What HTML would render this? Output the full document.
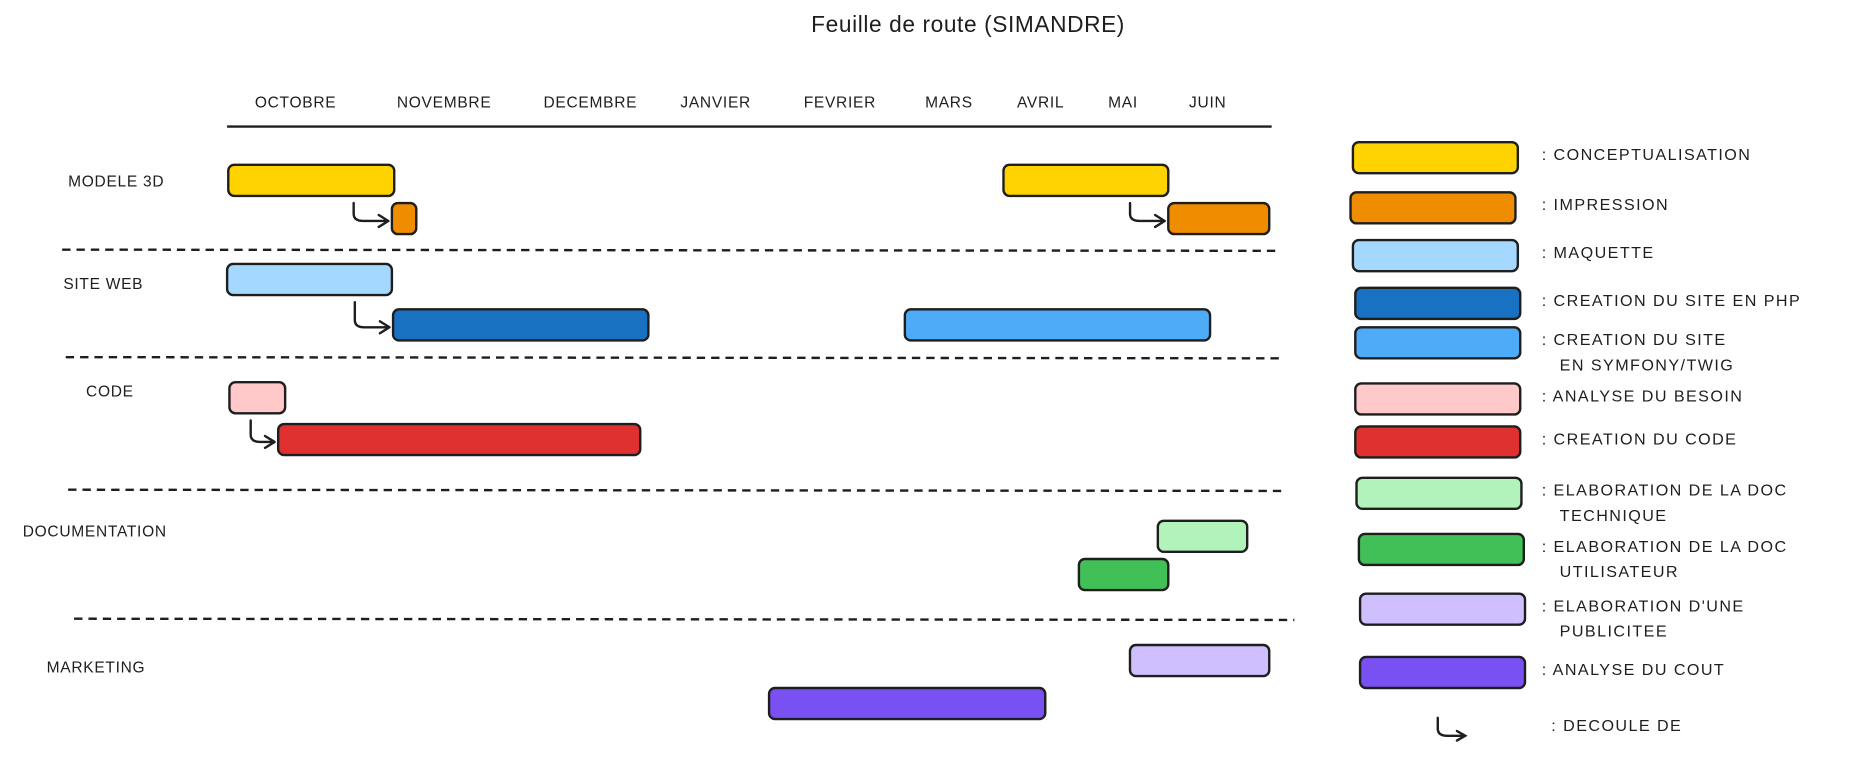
<!DOCTYPE html>
<html><head><meta charset="utf-8">
<style>
html,body{margin:0;padding:0;background:#fff;}
svg{display:block;}
text{font-family:"Liberation Sans",sans-serif;fill:#1e1e1e;}
.lbl{font-size:13px;letter-spacing:0.6px;}
.leg{font-size:13.5px;letter-spacing:1.2px;}
</style></head>
<body>
<svg id="chart" width="1874" height="774" viewBox="0 0 1568 648" preserveAspectRatio="none" xmlns="http://www.w3.org/2000/svg">
<text x="810" y="27" text-anchor="middle" font-size="19" style="letter-spacing:0.5px">Feuille de route (SIMANDRE)</text>
<line x1="190" y1="106" x2="1064" y2="106" stroke="#1e1e1e" stroke-width="2"/>
<g id="months"></g>
<g id="grid"></g>
<g id="bars"></g>
<g id="arrows"></g>
<g id="rows"></g>
<g id="legend"></g>
</svg>
<script>
const months = ["OCTOBRE","NOVEMBRE","DECEMBRE","JANVIER","FEVRIER","MARS","AVRIL","MAI","JUIN"];
const monthTickPos = [0.58,1.86,3.12,4.2,5.27,6.21,7.0,7.71,8.44];
const tasks = ["conceptualisation-1","impression-1","conceptualisation-2","impression-2","maquette","site-php","site-symfony","analyse-besoin","creation-code","doc-technique","doc-utilisateur","publicite","analyse-cout"];
const taskStart = [0,1.41,6.68,8.1,-0.01,1.42,5.83,0.01,0.43,8.01,7.33,7.77,4.66];
const taskEnd = [1.43,1.62,8.1,8.97,1.41,3.62,8.46,0.49,3.55,8.78,8.1,8.97,7.04];
const taskLane = [0,1,0,1,2,3,3,4,5,6,7,8,9];
const taskColor = ["#ffd300","#f08c00","#ffd300","#f08c00","#a5d8ff","#1971c2","#4dabf7","#ffc9c9","#e03131","#b2f2bb","#40c057","#d0bfff","#7950f2"];
const dependencies = [[0,1],[2,3],[4,5],[7,8]];
const rowNames = ["MODELE 3D","SITE WEB","CODE","DOCUMENTATION","MARKETING"];
const legendLabels = [["CONCEPTUALISATION"],["IMPRESSION"],["MAQUETTE"],["CREATION DU SITE EN PHP"],["CREATION DU SITE","EN SYMFONY/TWIG"],["ANALYSE DU BESOIN"],["CREATION DU CODE"],["ELABORATION DE LA DOC","TECHNIQUE"],["ELABORATION DE LA DOC","UTILISATEUR"],["ELABORATION D'UNE","PUBLICITEE"],["ANALYSE DU COUT"]];
const legendColors = ["#ffd300","#f08c00","#a5d8ff","#1971c2","#4dabf7","#ffc9c9","#e03131","#b2f2bb","#40c057","#d0bfff","#7950f2"];

const NS="http://www.w3.org/2000/svg";
function mk(tag,attrs,parent){const e=document.createElementNS(NS,tag);for(const k in attrs)e.setAttribute(k,attrs[k]);document.getElementById(parent).appendChild(e);return e;}
const X0=191, UNIT=97.1;
function xScale(m){return X0+m*UNIT;}
const laneY=[138,170,221,259,320,355,436,468,540,576];
const BAR_H=26;
function yLane(l){return laneY[l];}

months.forEach((m,i)=>{
  const t=mk("text",{x:xScale(monthTickPos[i]),y:90,"text-anchor":"middle",class:"lbl"},"months");
  t.textContent=m;
  
  
});
[[52,209,1072],[55,299,1075],[57,410,1075],[62,518,1083]].forEach(d=>{
  const l=mk("line",{x1:d[0],y1:d[1],x2:d[2],y2:d[1]+1,stroke:"#1e1e1e","stroke-width":2,"stroke-dasharray":"7 5"},"grid");
  
  
});
tasks.forEach((t,i)=>{
  const x1=xScale(taskStart[i]),x2=xScale(taskEnd[i]);
  const r=mk("rect",{x:x1,y:yLane(taskLane[i]),width:x2-x1,height:BAR_H,rx:5,fill:taskColor[i],stroke:"#1e1e1e","stroke-width":2},"bars");
  
  
});
dependencies.forEach(d=>{
  const p=d[0],c=d[1];
  const tipX=xScale(taskStart[c])-3, tipY=yLane(taskLane[c])+BAR_H/2+2;
  const sx=tipX-(c===8?20:29), sy=yLane(taskLane[p])+BAR_H+6;
  const path=mk("path",{d:`M${sx} ${sy} L${sx} ${tipY-6} Q${sx} ${tipY} ${sx+8} ${tipY} L${tipX} ${tipY} M${tipX-8} ${tipY-5} L${tipX} ${tipY} L${tipX-8} ${tipY+5}`,fill:"none",stroke:"#1e1e1e","stroke-width":2,"stroke-linecap":"round","stroke-linejoin":"round"},"arrows");
  
  
});
[[57,156],[53,242],[72,332],[19,449],[39,563]].forEach((p,i)=>{
  const t=mk("text",{x:p[0],y:p[1],class:"lbl"},"rows");
  t.textContent=rowNames[i];
  
  
});
const legY=[119,161,201,241,274,321,357,400,447,497,550];
const legX=[1132,1130,1132,1134,1134,1134,1134,1135,1137,1138,1138];
legendLabels.forEach((lines,i)=>{
  const r=mk("rect",{x:legX[i],y:legY[i],width:138,height:26,rx:5,fill:legendColors[i],stroke:"#1e1e1e","stroke-width":2},"legend");
  
  
  const ty = lines.length>1 ? legY[i]+15 : legY[i]+15;
  lines.forEach((ln,j)=>{
    const t=mk("text",{x:j?1305:1290,y:ty+j*21,class:"leg"},"legend");
    t.textContent=(j?"":": ")+ln;
    
    
  });
});
const la=mk("path",{d:"M1203 601 L1203 610 Q1203 616 1211 616 L1226 616 M1219 612 L1226 616 L1219 620",fill:"none",stroke:"#1e1e1e","stroke-width":2,"stroke-linecap":"round"},"legend");


const lt=mk("text",{x:1298,y:612,class:"leg"},"legend");
lt.textContent=": DECOULE DE";


</script>
</body></html>
